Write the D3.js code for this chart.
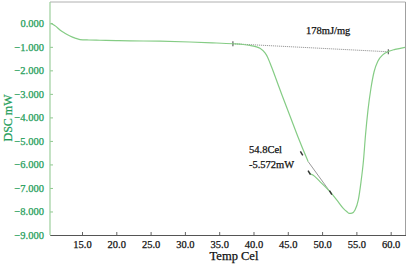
<!DOCTYPE html>
<html>
<head>
<meta charset="utf-8">
<script src="https://cdn.jsdelivr.net/npm/d3@7"></script>
<style>
  html, body { margin: 0; padding: 0; background: #fff; }
  svg { display: block; }
</style>
</head>
<body>
<svg id="chart"></svg>
<script>
// DSC trace. The trace has a small break near 48 Cel,
// so it is kept as two pieces.
const tempA = [10.48, 11.2, 11.79, 12.5, 13.25, 14.0, 14.71, 16.0, 17.62, 20.0, 22.0, 26.37, 30.74, 34.0, 37.0, 38.5, 39.49, 40.3, 40.95, 41.68, 42.04, 42.41, 43.13, 44.15, 45.32, 46.49, 47.75, 47.97];
const dscA  = [0.0, -0.13, -0.285, -0.42, -0.54, -0.63, -0.69, -0.71, -0.72, -0.735, -0.745, -0.76, -0.795, -0.83, -0.87, -0.9, -0.94, -0.99, -1.06, -1.26, -1.43, -1.69, -2.24, -3.05, -3.94, -4.83, -5.73, -5.88];

const tempB = [48.08, 48.3, 48.67, 49.69, 51.15, 52.13, 53.09, 53.63, 53.97, 54.36, 54.8, 55.28, 55.67, 56.04, 56.33, 56.69, 57.13, 57.57, 58.15, 58.88, 59.65, 60.63, 62.08];
const dscB  = [-6.32, -6.4, -6.45, -6.73, -7.16, -7.51, -7.87, -8.01, -8.08, -8.07, -7.94, -7.51, -6.75, -5.81, -4.75, -3.69, -2.75, -2.07, -1.6, -1.33, -1.2, -1.11, -1.02];

// Peak-area baseline and onset tangent
const baseT = [37.0, 59.65];
const baseD = [-0.87, -1.21];
const tanT  = [47.97, 51.25];
const tanD  = [-5.88, -7.2];
const markT = [47.01, 48.13, 51.25];
const markD = [-5.53, -6.35, -7.2];

const xTicks = [15, 20, 25, 30, 35, 40, 45, 50, 55, 60];
const yTicks = [0, -1, -2, -3, -4, -5, -6, -7, -8, -9];

const areaLabel = "178mJ/mg";
const peakLabels = ["54.8Cel", "-5.572mW"];

const W = 407, H = 264;
const green = "#1f9e5a";
const curveColor = "#85cc85";
const serif = "'Liberation Serif', 'Times New Roman', serif";

const svg = d3.select("#chart").attr("width", W).attr("height", H);

const x = d3.scaleLinear().domain([10.335, 62.16]).range([50, 405.5]);
const y = d3.scaleLinear().domain([0.906, -9.0]).range([2, 235]);

// heavier text, like the instrument software's rendering
const ink = (sel, color) => sel.attr("fill", color).attr("stroke", color)
  .attr("stroke-width", 0.25).attr("font-family", serif);

// Frame: top and right in grey
svg.append("line").attr("x1", 50).attr("x2", 405.5).attr("y1", 2).attr("y2", 2)
  .attr("stroke", "#b0b0b0").attr("stroke-width", 1);
svg.append("line").attr("x1", 405.5).attr("x2", 405.5).attr("y1", 2).attr("y2", 235)
  .attr("stroke", "#a0a0a0").attr("stroke-width", 1);

// Y axis (green, ticks pointing in)
const yAxis = svg.append("g").attr("transform", "translate(50,0)")
  .call(d3.axisLeft(y).tickValues(yTicks).tickSizeInner(-3).tickSizeOuter(0)
    .tickPadding(6).tickFormat(d3.format(".3f")));
yAxis.select(".domain").remove();
yAxis.selectAll(".tick line").attr("stroke", "#8fc88f");
ink(yAxis.selectAll(".tick text"), green).attr("font-size", 10.5);
svg.append("line").attr("x1", 50).attr("x2", 50).attr("y1", 2).attr("y2", 235)
  .attr("stroke", "#9ccf9c").attr("stroke-width", 1.2);

// X axis (dark, ticks pointing up)
const xAxis = svg.append("g").attr("transform", "translate(0,235)")
  .call(d3.axisBottom(x).tickValues(xTicks).tickSizeInner(-3).tickSizeOuter(0)
    .tickPadding(6).tickFormat(d3.format(".1f")));
xAxis.select(".domain").attr("stroke", "#555").attr("stroke-width", 1.2);
xAxis.selectAll(".tick line").attr("stroke", "#666");
ink(xAxis.selectAll(".tick text"), "#111").attr("font-size", 10.5);

// Axis titles
ink(svg.append("text"), "#111").attr("x", 234).attr("y", 260).attr("text-anchor", "middle")
  .attr("font-size", 12.5).text("Temp Cel");
ink(svg.append("text"), green).attr("transform", "translate(12,118) rotate(-90)")
  .attr("text-anchor", "middle").attr("font-size", 12).text("DSC mW");

// Baseline (dotted) and tangent
svg.append("line")
  .attr("x1", x(baseT[0])).attr("y1", y(baseD[0]))
  .attr("x2", x(baseT[1])).attr("y2", y(baseD[1]))
  .attr("stroke", "#888").attr("stroke-width", 1).attr("stroke-dasharray", "1,1");
baseT.forEach((t, i) => {
  svg.append("line")
    .attr("x1", x(t)).attr("x2", x(t))
    .attr("y1", y(baseD[i]) - 2.5).attr("y2", y(baseD[i]) + 2.5)
    .attr("stroke", "#444").attr("stroke-width", 1);
});
svg.append("line")
  .attr("x1", x(tanT[0])).attr("y1", y(tanD[0]))
  .attr("x2", x(tanT[1])).attr("y2", y(tanD[1]))
  .attr("stroke", "#999").attr("stroke-width", 1);

// Trace
const line = d3.line().x(d => x(d[0])).y(d => y(d[1])).curve(d3.curveMonotoneX);
[[tempA, dscA], [tempB, dscB]].forEach(([ts, ds]) => {
  svg.append("path")
    .attr("d", line(ts.map((t, i) => [t, ds[i]])))
    .attr("fill", "none").attr("stroke", curveColor).attr("stroke-width", 1.2);
});

// Small markers on the trace
markT.forEach((t, i) => {
  const cx = x(t), cy = y(markD[i]);
  svg.append("line")
    .attr("x1", cx - 1.2).attr("y1", cy - 2).attr("x2", cx + 1.2).attr("y2", cy + 2)
    .attr("stroke", "#333").attr("stroke-width", 1.4);
});

// Annotations
ink(svg.append("text"), "#111").attr("x", 306).attr("y", 34)
  .attr("font-size", 10.5).text(areaLabel);
peakLabels.forEach((s, i) => {
  ink(svg.append("text"), "#111").attr("x", 249).attr("y", 153 + i * 14.5)
    .attr("font-size", 10.5).text(s);
});
</script>
</body>
</html>
